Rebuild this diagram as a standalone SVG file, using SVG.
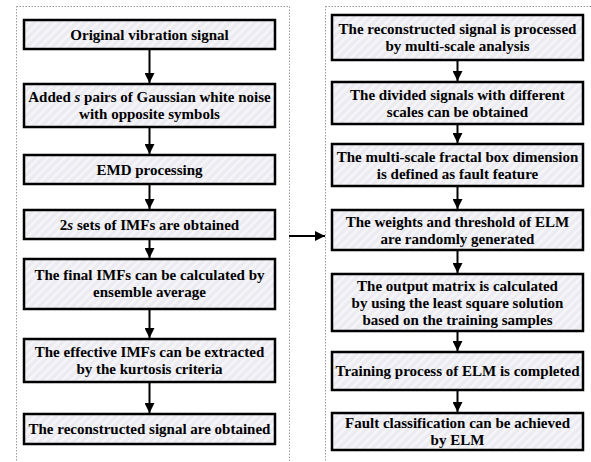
<svg xmlns="http://www.w3.org/2000/svg" width="591" height="462" viewBox="0 0 591 462">
<defs>
<pattern id="hatch" patternUnits="userSpaceOnUse" width="6" height="6" patternTransform="rotate(45)">
<rect width="6" height="6" fill="#ebebf1"/>
<rect x="0" y="0" width="2.5" height="6" fill="#f6f6f9"/>
</pattern>
<marker id="ah" markerWidth="10" markerHeight="10" refX="10" refY="5" orient="auto" markerUnits="userSpaceOnUse">
<path d="M0,0 L10,5 L0,10 Z" fill="#000"/>
</marker>
</defs>
<style>
.box{fill:url(#hatch);stroke:#000;stroke-width:2.5}
text{font-family:'Liberation Serif','Times New Roman',serif;font-weight:bold;font-size:15px;text-anchor:middle;fill:#000}
.c{stroke:#000;stroke-width:2;fill:none;marker-end:url(#ah)}
.frame{fill:none;stroke:#9a9a9a;stroke-width:1;stroke-dasharray:1.5,1.5}
</style>
<rect width="591" height="462" fill="#fff"/>
<rect class="frame" x="16.5" y="6.5" width="273" height="470"/>
<rect class="frame" x="325.5" y="6.5" width="300" height="470"/>

<g font-family="Liberation Serif, Times New Roman, serif" font-weight="bold" font-size="15" text-anchor="middle">
<g id="L1"><rect class="box" x="24" y="20" width="251" height="29"/><text x="149.5" y="39.5">Original vibration signal</text></g>
<g id="L2"><rect class="box" x="24" y="84" width="251" height="43"/><text x="149.5" y="102">Added  <tspan font-style="italic">s</tspan> pairs of Gaussian white noise</text><text x="149.5" y="119">with opposite symbols</text></g>
<g id="L3"><rect class="box" x="24" y="155" width="251" height="29"/><text x="149.5" y="174.5">EMD processing</text></g>
<g id="L4"><rect class="box" x="24" y="210" width="251" height="29"/><text x="149.5" y="229.5">2<tspan font-style="italic">s</tspan> sets of IMFs are obtained</text></g>
<g id="L5"><rect class="box" x="24" y="259" width="251" height="50"/><text x="149.5" y="280">The final IMFs can be calculated by</text><text x="149.5" y="297">ensemble average</text></g>
<g id="L6"><rect class="box" x="24" y="339" width="251" height="43"/><text x="149.5" y="357">The effective IMFs can be extracted</text><text x="149.5" y="374">by the kurtosis criteria</text></g>
<g id="L7"><rect class="box" x="24" y="414" width="251" height="30"/><text x="149.5" y="434">The reconstructed signal are obtained</text></g>

<g id="R1"><rect class="box" x="332" y="15" width="251" height="45"/><text x="457.5" y="34">The reconstructed signal is processed</text><text x="457.5" y="51">by multi-scale analysis</text></g>
<g id="R2"><rect class="box" x="332" y="82" width="251" height="42"/><text x="457.5" y="99.5">The divided signals with different</text><text x="457.5" y="116.5">scales can be obtained</text></g>
<g id="R3"><rect class="box" x="332" y="144" width="251" height="42"/><text x="457.5" y="161.5">The multi-scale fractal box dimension</text><text x="457.5" y="178.5">is defined as fault feature</text></g>
<g id="R4"><rect class="box" x="332" y="210" width="251" height="40"/><text x="457.5" y="226.5">The weights and threshold of ELM</text><text x="457.5" y="243.5">are randomly generated</text></g>
<g id="R5"><rect class="box" x="332" y="274" width="251" height="57"/><text x="457.5" y="290.5">The output matrix is calculated</text><text x="457.5" y="307.5">by using the least square solution</text><text x="457.5" y="324.5">based on the training samples</text></g>
<g id="R6"><rect class="box" x="332" y="352" width="251" height="38"/><text x="457.5" y="376">Training process of ELM is completed</text></g>
<g id="R7"><rect class="box" x="332" y="413" width="251" height="37"/><text x="457.5" y="428">Fault classification can be achieved</text><text x="457.5" y="445">by ELM</text></g>
</g>

<g id="connectors">
<line class="c" x1="149.5" y1="50" x2="149.5" y2="83"/>
<line class="c" x1="149.5" y1="128" x2="149.5" y2="154"/>
<line class="c" x1="149.5" y1="185" x2="149.5" y2="209"/>
<line class="c" x1="149.5" y1="240" x2="149.5" y2="258"/>
<line class="c" x1="149.5" y1="310" x2="149.5" y2="338"/>
<line class="c" x1="149.5" y1="383" x2="149.5" y2="413"/>
<line class="c" x1="457.5" y1="61" x2="457.5" y2="81"/>
<line class="c" x1="457.5" y1="125" x2="457.5" y2="143"/>
<line class="c" x1="457.5" y1="187" x2="457.5" y2="209"/>
<line class="c" x1="457.5" y1="251" x2="457.5" y2="273"/>
<line class="c" x1="457.5" y1="332" x2="457.5" y2="351"/>
<line class="c" x1="457.5" y1="391" x2="457.5" y2="412"/>
<line class="c" x1="289" y1="236" x2="325" y2="236"/>
</g>
</svg>
